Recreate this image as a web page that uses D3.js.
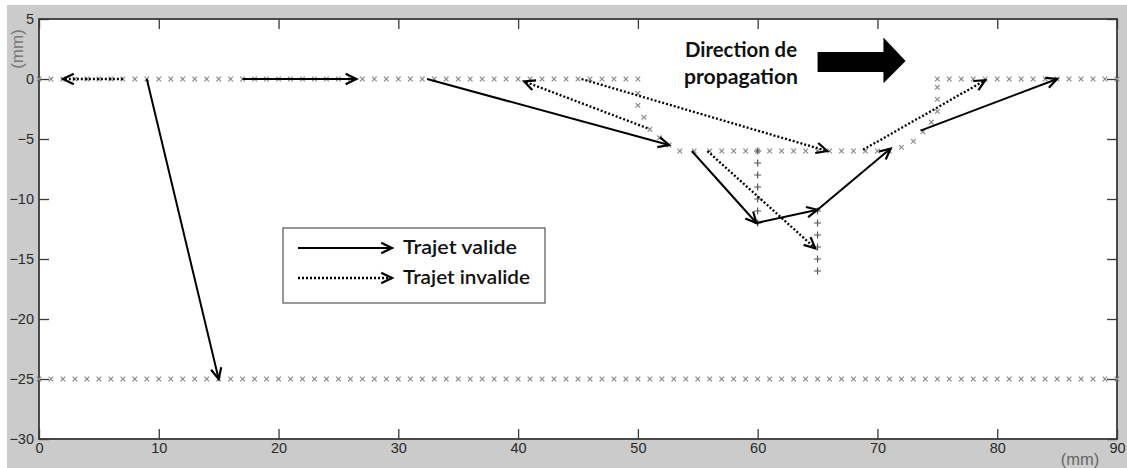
<!DOCTYPE html>
<html><head><meta charset="utf-8">
<script src="https://cdn.jsdelivr.net/npm/d3@7"></script>
<style>body{margin:0;background:#fff;} svg{display:block;}</style>
</head><body>
<svg id="c" width="1127" height="468"></svg>
<script>
// ---- data (mm) ----
const xTicks = [0,10,20,30,40,50,60,70,80,90];
const yTicks = [5,0,-5,-10,-15,-20,-25,-30];
// crack path sample points (x markers)
const rowTopLeftX = d3.range(0, 51, 1);          // y = 0
const rowTopRightX = d3.range(75, 91, 1);        // y = 0
const rowBottomX = d3.range(0, 91, 1);           // y = -25
const rowMidX = [53.5,54.7,56,57,58,59,60,61,62,63,64,65,66,67,68,69,70,71]; // y = -6
const crackDown = [[50,-1.2],[50,-2.2],[50.5,-3.2],[51,-4.2],[51.8,-4.9],[52.6,-5.5]];
const crackUp = [[72,-5.7],[73,-5.2],[73.8,-4.4],[74.5,-3.6],[75,-2.7],[75,-1.7],[75,-0.7]];
// + markers
const plusCol60Y = [-6,-7,-8,-9,-10,-11,-12];
const plusCol65Y = [-11,-12,-13,-14,-15,-16];
// arrows [x1,y1,x2,y2]
const validArrows = [[9,0,15,-25],[17,0,26.5,0],[32.4,0,52.6,-5.5],[54.5,-6,59.9,-12],[59.9,-12,65,-10.9],[65,-10.9,71.1,-5.8],[73.6,-4.3,85,0]];
const invalidArrows = [[7,0,2,0],[50.8,-4.1,40.5,-0.2],[45.3,0,65.8,-6],[55.8,-6,64.8,-14.1],[68.8,-5.9,79,-0.1]];
const legendLabels = ["Trajet valide","Trajet invalide"];
const annotationLines = ["Direction de","propagation"];

// ---- layout ----
const svg = d3.select("#c");
const W = 1127, H = 468;
const x = d3.scaleLinear().domain([0,90]).range([39,1117]);
const y = d3.scaleLinear().domain([5,-30]).range([19,439]);

svg.append("rect").attr("x",7).attr("y",5).attr("width",W-7).attr("height",H-5).attr("fill","#cbcbcb");
svg.append("rect").attr("x",x(0)).attr("y",y(5)).attr("width",x(90)-x(0)).attr("height",y(-30)-y(5)).attr("fill","#fff");

const axisColor = "#3a3a3a";
const font = "'Liberation Sans', Arial, sans-serif";
function styleAxis(g, labels){
  g.select(".domain").remove();
  g.selectAll(".tick line").attr("stroke",axisColor).attr("stroke-width",1.3);
  g.selectAll(".tick text").attr("fill","#2a2a2a").attr("font-family",font).attr("font-size",14.5)
    .style("display", labels ? null : "none");
}
svg.append("g").attr("transform",`translate(0,${y(-30)})`)
  .call(d3.axisBottom(x).tickValues(xTicks).tickSize(-10).tickPadding(4).tickFormat(d3.format("d")))
  .call(g=>styleAxis(g,true));
svg.append("g").attr("transform",`translate(0,${y(5)})`)
  .call(d3.axisTop(x).tickValues(xTicks).tickSize(-10))
  .call(g=>styleAxis(g,false));
svg.append("g").attr("transform",`translate(${x(0)},0)`)
  .call(d3.axisLeft(y).tickValues(yTicks).tickSize(-10).tickPadding(5).tickFormat(d3.format("d")))
  .call(g=>styleAxis(g,true));
svg.append("g").attr("transform",`translate(${x(90)},0)`)
  .call(d3.axisRight(y).tickValues(yTicks).tickSize(-10))
  .call(g=>styleAxis(g,false));
// frame
svg.append("rect").attr("x",x(0)).attr("y",y(5)).attr("width",x(90)-x(0)).attr("height",y(-30)-y(5))
  .attr("fill","none").attr("stroke",axisColor).attr("stroke-width",1.8);

// axis unit labels
svg.append("text").attr("transform",`translate(23,${49}) rotate(-90)`).attr("text-anchor","middle")
  .attr("font-family",font).attr("font-size",17).attr("fill","#777").text("(mm)");
svg.append("text").attr("x",1080).attr("y",465).attr("text-anchor","middle")
  .attr("font-family",font).attr("font-size",16.5).attr("fill","#666").text("(mm)");

// ---- x markers ----
const xPts = [];
rowTopLeftX.forEach(v=>xPts.push([v,0]));
rowTopRightX.forEach(v=>xPts.push([v,0]));
rowBottomX.forEach(v=>xPts.push([v,-25]));
rowMidX.forEach(v=>xPts.push([v,-6]));
crackDown.forEach(p=>xPts.push(p));
crackUp.forEach(p=>xPts.push(p));
const s = 2.3;
svg.append("g").selectAll("path").data(xPts).join("path")
  .attr("d",d=>`M${x(d[0])-s},${y(d[1])-s}L${x(d[0])+s},${y(d[1])+s}M${x(d[0])-s},${y(d[1])+s}L${x(d[0])+s},${y(d[1])-s}`)
  .attr("stroke","#8a8a8a").attr("stroke-width",1.2).attr("fill","none");

// + markers
const plusPts = plusCol60Y.map(v=>[60,v]).concat(plusCol65Y.map(v=>[65,v]));
const p = 3.5;
svg.append("g").selectAll("path").data(plusPts).join("path")
  .attr("d",d=>`M${x(d[0])-p},${y(d[1])}L${x(d[0])+p},${y(d[1])}M${x(d[0])},${y(d[1])-p}L${x(d[0])},${y(d[1])+p}`)
  .attr("stroke","#555").attr("stroke-width",1.2).attr("fill","none");

// ---- arrows ----
function arrow(g, x1,y1,x2,y2, dashed){
  const ang = Math.atan2(y2-y1, x2-x1);
  const L = 12, a = 0.45;
  g.append("line").attr("x1",x1).attr("y1",y1).attr("x2",x2).attr("y2",y2)
    .attr("stroke","#000").attr("stroke-width",dashed?2.3:2)
    .attr("stroke-dasharray",dashed?"2,2":null);
  const hx1 = x2 - L*Math.cos(ang-a), hy1 = y2 - L*Math.sin(ang-a);
  const hx2 = x2 - L*Math.cos(ang+a), hy2 = y2 - L*Math.sin(ang+a);
  g.append("path").attr("d",`M${hx1},${hy1}L${x2},${y2}L${hx2},${hy2}`)
    .attr("fill","none").attr("stroke","#000").attr("stroke-width",2.2)
    .attr("stroke-linejoin","miter");
}
const ag = svg.append("g");
validArrows.forEach(d=>arrow(ag, x(d[0]),y(d[1]),x(d[2]),y(d[3]), false));
invalidArrows.forEach(d=>arrow(ag, x(d[0]),y(d[1]),x(d[2]),y(d[3]), true));

// ---- legend ----
const lg = svg.append("g");
lg.append("rect").attr("x",283).attr("y",228).attr("width",262).attr("height",75)
  .attr("fill","#fff").attr("stroke","#333").attr("stroke-width",1);
arrow(lg, 298,248,392,248,false);
arrow(lg, 298,278,392,278,true);
const legendW = [114,127];
legendLabels.forEach((t,i)=>{
  lg.append("text").attr("x",403).attr("y",254+i*30).attr("font-family","Lato, 'Open Sans', sans-serif")
    .attr("font-size",19).attr("font-weight",600).attr("fill","#111")
    .attr("textLength",legendW[i]).attr("lengthAdjust","spacingAndGlyphs").text(t);
});

// ---- annotation ----
const annW = [112,114];
annotationLines.forEach((t,i)=>{
  svg.append("text").attr("x",741).attr("y",57+i*27).attr("text-anchor","middle")
    .attr("font-family","Lato, 'Open Sans', sans-serif").attr("font-size",20).attr("font-weight",700)
    .attr("fill","#111").attr("textLength",annW[i]).attr("lengthAdjust","spacingAndGlyphs").text(t);
});
const bigArrow = [[65,2.25],[70.5,2.25],[70.5,3.45],[72.35,1.5],[70.5,-0.35],[70.5,0.58],[65,0.58]];
svg.append("path").attr("d", d3.line().x(d=>x(d[0])).y(d=>y(d[1]))(bigArrow)+"Z").attr("fill","#000");
</script>
</body></html>
